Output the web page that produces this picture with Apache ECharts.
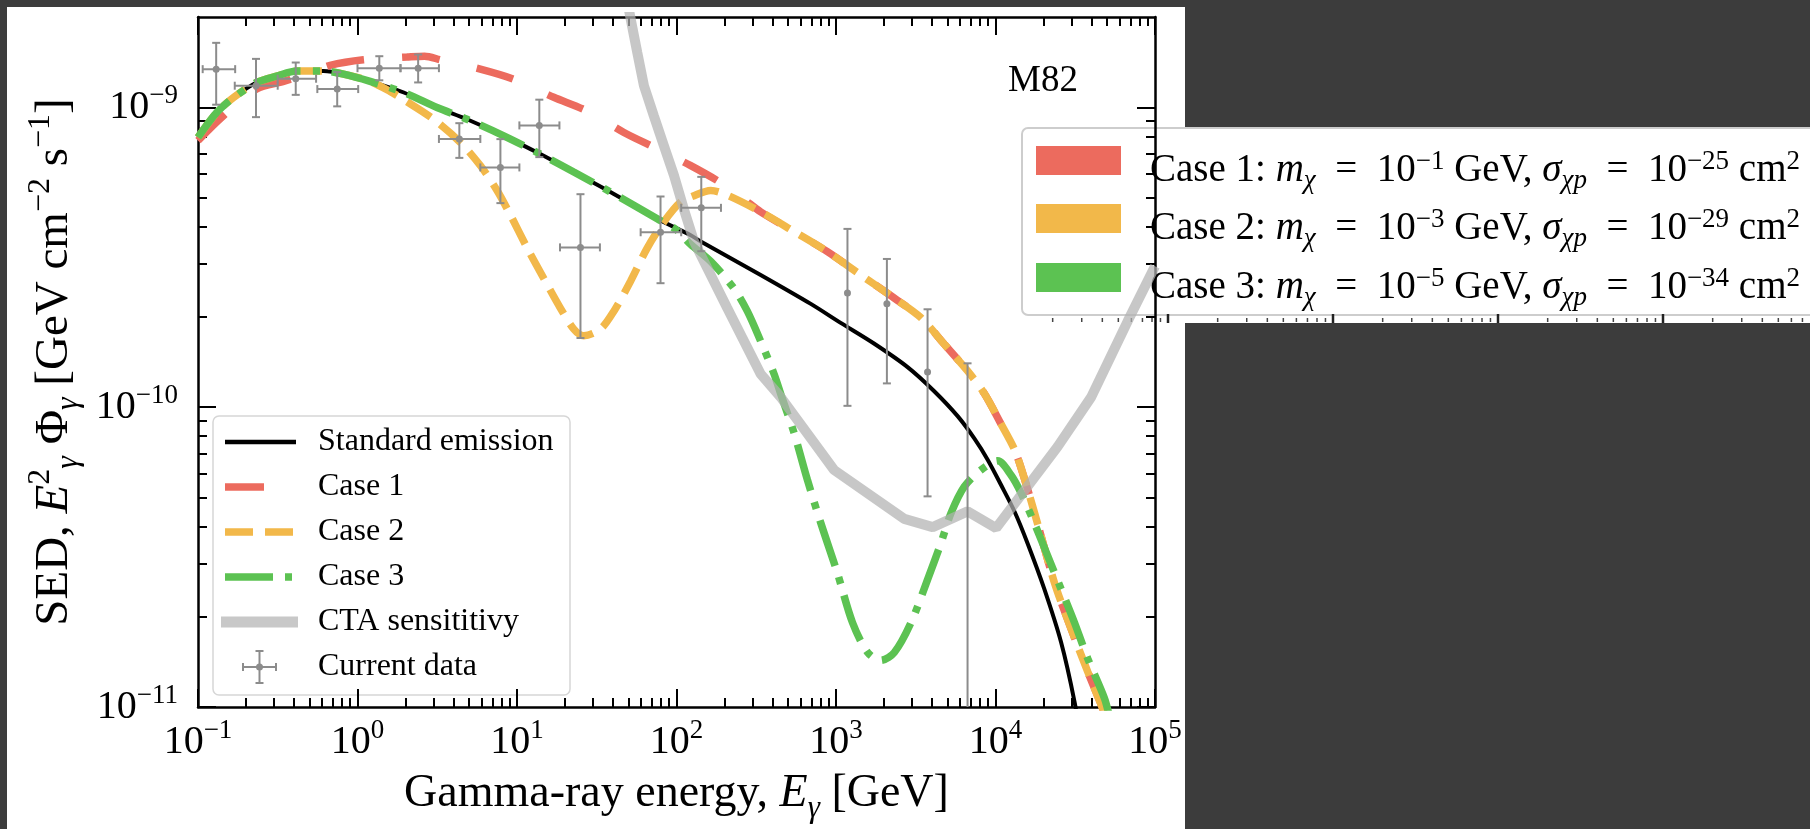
<!DOCTYPE html>
<html><head><meta charset="utf-8">
<script src="https://cdn.jsdelivr.net/npm/echarts@6.0.0/dist/echarts.min.js"></script>
<style>html,body{margin:0;padding:0;background:#3c3c3c;}#c{width:1810px;height:829px;}</style>
</head><body><div id="c"></div>
<script>
// ---------------- data ----------------
const xMajor = [0.1, 1, 10, 100, 1000, 10000, 100000];
const xMajorExp = ['\u22121', '0', '1', '2', '3', '4', '5'];
const yMajor = [1e-11, 1e-10, 1e-9];
const yMajorExp = ['\u221211', '\u221210', '\u22129'];

const stdE = [0.1,0.131,0.167,0.233,0.311,0.417,0.612,0.817,1.20,1.95,3.15,4.86,8.26,14.0,22.7,38.5,75.7,122,142,337,695,1070,1730,2810,4130,5790,7380,8930,10800,13200,15900,20200,25800,31300,35500];
const stdF = [7.94e-10,9.6e-10,1.077e-9,1.21e-9,1.27e-9,1.32e-9,1.32e-9,1.29e-9,1.22e-9,1.12e-9,9.98e-10,9.12e-10,8.03e-10,6.98e-10,6.08e-10,5.22e-10,4.25e-10,3.75e-10,3.57e-10,2.76e-10,2.21e-10,1.91e-10,1.63e-10,1.36e-10,1.13e-10,9.33e-11,7.85e-11,6.68e-11,5.52e-11,4.47e-11,3.51e-11,2.48e-11,1.64e-11,1.04e-11,7e-12];

const case1E = [0.1,0.144,0.233,0.344,0.501,0.673,1.09,2.04,2.63,3.31,5.89,9.53,17.0,27.5,46.8,72.1,122,194,263,337,546,883,1430,2320,3400,4780,6680,8510,10800,13200,15500,18800,23400,29800,37900,45900,50100];
const case1F = [7.74e-10,9.36e-10,1.15e-9,1.22e-9,1.30e-9,1.38e-9,1.44e-9,1.47e-9,1.48e-9,1.44e-9,1.34e-9,1.24e-9,1.08e-9,9.72e-10,8.24e-10,7.36e-10,6.4e-10,5.56e-10,4.95e-10,4.48e-10,3.85e-10,3.3e-10,2.76e-10,2.31e-10,1.99e-10,1.62e-10,1.32e-10,1.11e-10,8.81e-11,7.19e-11,5.57e-11,3.91e-11,2.6e-11,1.82e-11,1.31e-11,1.02e-11,9e-12];

const case2E = [0.1,0.131,0.167,0.233,0.311,0.417,0.612,0.817,1.20,1.60,1.95,3.0,4.42,5.89,7.5,9.1,11.6,14.7,18.7,22.7,26.2,33.3,40.5,51.5,65.5,83.4,106,126,164,208,337,546,883,1430,2320,3400,4780,6680,8510,10800,13200,15500,18800,23400,29800,37900,45900,50100];
const case2F = [7.94e-10,9.6e-10,1.077e-9,1.21e-9,1.27e-9,1.32e-9,1.32e-9,1.29e-9,1.22e-9,1.13e-9,1.06e-9,9.12e-10,7.63e-10,6.39e-10,5.28e-10,4.37e-10,3.39e-10,2.69e-10,2.14e-10,1.82e-10,1.73e-10,1.82e-10,2.09e-10,2.63e-10,3.39e-10,4.15e-10,4.83e-10,5.05e-10,5.28e-10,5.09e-10,4.48e-10,3.85e-10,3.3e-10,2.76e-10,2.31e-10,1.99e-10,1.62e-10,1.32e-10,1.11e-10,8.81e-11,7.19e-11,5.57e-11,3.91e-11,2.6e-11,1.82e-11,1.31e-11,1.02e-11,9e-12];

const case3E = [0.1,0.131,0.167,0.233,0.311,0.417,0.612,0.817,1.20,1.95,3.15,4.86,8.26,14.0,22.7,38.5,75.7,100,122,164,229,278,337,409,457,546,662,804,1020,1270,1580,1910,2320,2950,3750,4550,5260,6370,8110,10300,12500,14500,17500,21300,25800,31300,37900,48200,52500];
const case3F = [7.94e-10,9.6e-10,1.077e-9,1.21e-9,1.27e-9,1.32e-9,1.32e-9,1.29e-9,1.22e-9,1.12e-9,9.98e-10,9.12e-10,8.03e-10,6.98e-10,6.08e-10,5.22e-10,4.25e-10,3.9e-10,3.5e-10,3.06e-10,2.49e-10,2.09e-10,1.66e-10,1.29e-10,1.08e-10,8.2e-11,5.72e-11,4.1e-11,2.8e-11,1.91e-11,1.52e-11,1.43e-11,1.52e-11,1.91e-11,2.66e-11,3.52e-11,4.43e-11,5.43e-11,6.17e-11,6.62e-11,5.94e-11,5.16e-11,4.11e-11,3.18e-11,2.47e-11,1.91e-11,1.45e-11,1.07e-11,9e-12];

const ctaE = [49.0,51.5,56.8,62.5,72.1,83.4,96.4,111,129,208,337,450,973,2680,4040,6680,10100,24500,39800,67600,100000];
const ctaF = [2.29e-9,1.98e-9,1.52e-9,1.18e-9,9.36e-10,7.44e-10,5.93e-10,4.59e-10,3.56e-10,2.14e-10,1.29e-10,1.08e-10,6.17e-11,4.24e-11,3.98e-11,4.49e-11,3.95e-11,7.38e-11,1.08e-10,1.94e-10,2.95e-10];

const dataE   = [0.13,0.231,0.41,0.746,1.37,2.4,4.35,7.87,13.8,25,79.4,143,1180,2085,3750,6680];
const dataF   = [1.34e-9,1.18e-9,1.245e-9,1.15e-9,1.35e-9,1.35e-9,7.84e-10,6.3e-10,8.7e-10,3.41e-10,3.83e-10,4.62e-10,2.4e-10,2.21e-10,1.31e-10,8e-12];
const dataElo = [0.107,0.17,0.316,0.56,1.0,1.86,3.24,5.89,10.35,18.6,59.6,107,1180,2085,3750,6680];
const dataEhi = [0.171,0.316,0.55,1.01,1.86,3.24,5.89,10.35,18.45,33.1,107,190,1180,2085,3750,6680];
const dataFlo = [1.02e-9,9.27e-10,1.10e-9,1.007e-9,1.23e-9,1.21e-9,6.78e-10,4.79e-10,6.82e-10,1.70e-10,2.59e-10,3.31e-10,1.01e-10,1.2e-10,5.04e-11,1e-12];
const dataFhi = [1.64e-9,1.45e-9,1.41e-9,1.31e-9,1.48e-9,1.50e-9,8.85e-10,7.83e-10,1.06e-9,5.13e-10,5.04e-10,5.86e-10,3.93e-10,3.12e-10,2.12e-10,1.4e-10];

const legendNames = ['Standard emission', 'Case 1', 'Case 2', 'Case 3', 'CTA sensititivy', 'Current data'];
const caseMassExp = ['\u22121', '\u22123', '\u22125'];
const caseSigmaExp = ['\u221225', '\u221229', '\u221234'];

// ---------------- styling ----------------
const FONT = 'Liberation Serif';
const RED = '#ec6b5e', ORANGE = '#f2b84a', GREEN = '#5cc252', GRAY_ERR = '#8c8c8c';

const xMinor = [], yMinor = [];
for (let e = -1; e < 5; e++) for (let m = 2; m <= 9; m++) xMinor.push(+(m * Math.pow(10, e)).toPrecision(3));
for (let e = -11; e < -9; e++) for (let m = 2; m <= 9; m++) yMinor.push(+(m * Math.pow(10, e)).toPrecision(3));

const pairs = (xs, ys) => xs.map((x, i) => [x, ys[i]]);
function expIndex(arr, v) {
  let best = 0, d = Infinity;
  arr.forEach((t, i) => { const dd = Math.abs(Math.log10(t) - Math.log10(v)); if (dd < d) { d = dd; best = i; } });
  return best;
}
const tickRich = {
  b: {fontFamily: FONT, fontSize: 40, lineHeight: 50, color: '#000'},
  s: {fontFamily: FONT, fontSize: 27, lineHeight: 28, verticalAlign: 'top', color: '#000'}
};
function titleRich(fs) {
  const ss = Math.round(fs * 0.68);
  return {
    n: {fontFamily: FONT, fontSize: fs, lineHeight: 60, color: '#000'},
    i: {fontFamily: FONT, fontStyle: 'italic', fontSize: fs, lineHeight: 60, color: '#000'},
    sp: {fontFamily: FONT, fontSize: ss, lineHeight: 34, verticalAlign: 'top', color: '#000'},
    sb: {fontFamily: FONT, fontStyle: 'italic', fontSize: ss, lineHeight: 34, verticalAlign: 'bottom', color: '#000'}
  };
}
const XMIN = 0.1, XMAX = 1e5, YMIN = 1e-11, YMAX = 2e-9;

function xAx(pos, major, withLabel) {
  return {
    type: 'log', logBase: 10, min: XMIN, max: XMAX, position: pos,
    axisLine: {show: major, onZero: false, lineStyle: {color: '#000', width: 2.5}},
    axisTick: {show: true, inside: true, length: major ? 18 : 9, lineStyle: {color: '#000', width: 2},
               customValues: major ? xMajor : xMinor},
    axisLabel: withLabel ? {
      show: true, customValues: xMajor, margin: 10,
      formatter: v => '{b|10}{s|' + xMajorExp[expIndex(xMajor, v)] + '}', rich: tickRich
    } : {show: false},
    splitLine: {show: false}, minorTick: {show: false}
  };
}
function yAx(pos, major, withLabel) {
  return {
    type: 'log', logBase: 10, min: YMIN, max: YMAX, position: pos,
    axisLine: {show: major, onZero: false, lineStyle: {color: '#000', width: 2.5}},
    axisTick: {show: true, inside: true, length: major ? 18 : 9, lineStyle: {color: '#000', width: 2},
               customValues: major ? yMajor : yMinor},
    axisLabel: withLabel ? {
      show: true, customValues: yMajor, margin: 20,
      formatter: v => '{b|10}{s|' + yMajorExp[expIndex(yMajor, v)] + '}', rich: tickRich
    } : {show: false},
    splitLine: {show: false}, minorTick: {show: false}
  };
}

const xAxes = [xAx('bottom', true, true), xAx('bottom', false, false), xAx('top', true, false), xAx('top', false, false)];
xAxes[0].name = '{n|Gamma-ray energy, }{i|E}{sb|\u03b3}{n| [GeV]}';
xAxes[0].nameLocation = 'middle';
xAxes[0].nameGap = 57;
xAxes[0].nameTextStyle = {rich: titleRich(46)};
const yAxes = [yAx('left', true, true), yAx('left', false, false), yAx('right', true, false), yAx('right', false, false)];
yAxes[0].name = '{n|SED, }{i|E}{sp|2}{sb|\u03b3}{n| \u03a6}{sb|\u03b3}{n| [GeV cm}{sp|\u22122}{n| s}{sp|\u22121}{n|]}';
yAxes[0].nameLocation = 'middle';
yAxes[0].nameRotate = 90;
yAxes[0].nameGap = 106;
yAxes[0].nameTextStyle = {rich: titleRich(47)};

function errRender(params, api) {
  const E = api.value(0), F = api.value(1), El = api.value(2), Eh = api.value(3), Fl = api.value(4), Fh = api.value(5);
  const c = api.coord([E, F]);
  const st = {stroke: GRAY_ERR, lineWidth: 2};
  const t = api.coord([E, Fh]), b = api.coord([E, Fl]);
  const ch = [
    {type: 'line', shape: {x1: c[0], y1: t[1], x2: c[0], y2: b[1]}, style: st},
    {type: 'line', shape: {x1: c[0] - 4, y1: t[1], x2: c[0] + 4, y2: t[1]}, style: st},
    {type: 'line', shape: {x1: c[0] - 4, y1: b[1], x2: c[0] + 4, y2: b[1]}, style: st}
  ];
  if (Eh > El) {
    const l = api.coord([El, F]), r = api.coord([Eh, F]);
    ch.push({type: 'line', shape: {x1: l[0], y1: c[1], x2: r[0], y2: c[1]}, style: st});
    ch.push({type: 'line', shape: {x1: l[0], y1: c[1] - 4, x2: l[0], y2: c[1] + 4}, style: st});
    ch.push({type: 'line', shape: {x1: r[0], y1: c[1] - 4, x2: r[0], y2: c[1] + 4}, style: st});
  }
  ch.push({type: 'circle', shape: {cx: c[0], cy: c[1], r: 3.5}, style: {fill: GRAY_ERR}});
  return {type: 'group', children: ch};
}
const errData = dataE.map((e, i) => [e, dataF[i], dataElo[i], dataEhi[i], dataFlo[i], dataFhi[i]]);

// ---------------- legends (decoration) ----------------
const LX = 213, LY = 416, rowY = [442, 487, 532, 577, 622, 667];
const legendLL = [
  {type: 'rect', shape: {x: LX, y: LY, width: 357, height: 279, r: 6}, style: {fill: 'rgba(255,255,255,0.92)', stroke: '#d6d6d6', lineWidth: 1.5}},
  {type: 'line', shape: {x1: 225, y1: rowY[0], x2: 296, y2: rowY[0]}, style: {stroke: '#000', lineWidth: 4.5}},
  {type: 'line', shape: {x1: 225, y1: rowY[1], x2: 264, y2: rowY[1]}, style: {stroke: RED, lineWidth: 7.5}},
  {type: 'line', shape: {x1: 225, y1: rowY[2], x2: 296, y2: rowY[2]}, style: {stroke: ORANGE, lineWidth: 7.5, lineDash: [28, 12]}},
  {type: 'line', shape: {x1: 225, y1: rowY[3], x2: 296, y2: rowY[3]}, style: {stroke: GREEN, lineWidth: 7.5, lineDash: [48, 12, 7, 12]}},
  {type: 'line', shape: {x1: 221, y1: rowY[4], x2: 298, y2: rowY[4]}, style: {stroke: '#c8c8c8', lineWidth: 11}},
  {type: 'line', shape: {x1: 243, y1: rowY[5], x2: 276, y2: rowY[5]}, style: {stroke: GRAY_ERR, lineWidth: 2}},
  {type: 'line', shape: {x1: 259.5, y1: rowY[5] - 16, x2: 259.5, y2: rowY[5] + 16}, style: {stroke: GRAY_ERR, lineWidth: 2}},
  {type: 'line', shape: {x1: 243, y1: rowY[5] - 4, x2: 243, y2: rowY[5] + 4}, style: {stroke: GRAY_ERR, lineWidth: 2}},
  {type: 'line', shape: {x1: 276, y1: rowY[5] - 4, x2: 276, y2: rowY[5] + 4}, style: {stroke: GRAY_ERR, lineWidth: 2}},
  {type: 'line', shape: {x1: 255.5, y1: rowY[5] - 16, x2: 263.5, y2: rowY[5] - 16}, style: {stroke: GRAY_ERR, lineWidth: 2}},
  {type: 'line', shape: {x1: 255.5, y1: rowY[5] + 16, x2: 263.5, y2: rowY[5] + 16}, style: {stroke: GRAY_ERR, lineWidth: 2}},
  {type: 'circle', shape: {cx: 259.5, cy: rowY[5], r: 3.5}, style: {fill: GRAY_ERR}}
];
legendNames.forEach((n, i) => legendLL.push({
  type: 'text', x: 318, y: rowY[i],
  style: {text: n, fontFamily: FONT, fontSize: 32, fill: '#000', verticalAlign: 'middle', align: 'left'}
}));

const rlRich = {
  n: {fontFamily: FONT, fontSize: 39, lineHeight: 46, color: '#111'},
  i: {fontFamily: FONT, fontStyle: 'italic', fontSize: 39, lineHeight: 46, color: '#111'},
  sp: {fontFamily: FONT, fontSize: 27, lineHeight: 22, verticalAlign: 'top', color: '#111'},
  sb: {fontFamily: FONT, fontStyle: 'italic', fontSize: 27, lineHeight: 26, verticalAlign: 'bottom', color: '#111'}
};
const patchY = [146, 204, 263], patchCol = [RED, ORANGE, GREEN];
const legendR = [
  {type: 'rect', shape: {x: 1185, y: 313, width: 640, height: 10}, style: {fill: '#fff'}},
  {type: 'rect', shape: {x: 1022, y: 128, width: 820, height: 187, r: 6}, style: {fill: '#fff', stroke: '#cdcdcd', lineWidth: 2}}
];
for (let d = 0; d < 6; d++) {
  const x0 = 1003 + 165 * d;
  if (x0 > 1100) legendR.push({type: 'line', shape: {x1: x0, y1: 314, x2: x0, y2: 323}, style: {stroke: '#222', lineWidth: 2.5}});
  [2,3,4,5,6,7,8,9].forEach(m => {
    const xm = x0 + 165 * Math.log10(m);
    if (xm > 1030 && xm < 1810) legendR.push({type: 'line', shape: {x1: xm, y1: 318, x2: xm, y2: 322}, style: {stroke: '#444', lineWidth: 1.5}});
  });
}
[0, 1, 2].forEach(i => {
  legendR.push({type: 'rect', shape: {x: 1036, y: patchY[i], width: 85, height: 29}, style: {fill: patchCol[i]}});
  legendR.push({
    type: 'text', x: 1150, y: patchY[i] + 25,
    style: {
      text: '{n|Case ' + (i + 1) + ': }{i|m}{sb|\u03c7}{n|  =  10}{sp|' + caseMassExp[i] + '}{n| GeV, }{i|\u03c3}{sb|\u03c7p}{n|  =  10}{sp|' + caseSigmaExp[i] + '}{n| cm}{sp|2}',
      rich: rlRich, verticalAlign: 'middle', align: 'left'
    }
  });
});

const chart = echarts.init(document.getElementById('c'), null, {renderer: 'canvas'});
chart.setOption({
  backgroundColor: '#3c3c3c',
  animation: false,
  grid: {left: 198, top: 17, width: 957, height: 695, containLabel: false},
  xAxis: xAxes,
  yAxis: yAxes,
  graphic: [
    {type: 'rect', z: -100, shape: {x: 7, y: 7, width: 1178, height: 830}, style: {fill: '#fff'}},
    {type: 'text', x: 1043, y: 81, style: {text: 'M82', fontFamily: FONT, fontSize: 37, fill: '#000', align: 'center', verticalAlign: 'middle'}},
    {type: 'group', z: 100, children: legendLL},
    {type: 'group', z: 100, children: legendR}
  ],
  series: [
    {type: 'line', name: 'Standard emission', data: pairs(stdE, stdF), showSymbol: false, smooth: 0.3, z: 2,
     lineStyle: {color: '#000', width: 4}},
    {type: 'line', name: 'Case 1', data: pairs(case1E, case1F), showSymbol: false, smooth: 0.3, z: 3,
     lineStyle: {color: RED, width: 7.5, type: [38, 38]}},
    {type: 'line', name: 'Case 2', data: pairs(case2E, case2F), showSymbol: false, smooth: 0.3, z: 4,
     lineStyle: {color: ORANGE, width: 7.5, type: [28, 12]}},
    {type: 'line', name: 'Case 3', data: pairs(case3E, case3F), showSymbol: false, smooth: 0.3, z: 5,
     lineStyle: {color: GREEN, width: 7.5, type: [48, 12, 7, 12]}},
    {type: 'line', name: 'CTA sensititivy', data: pairs(ctaE, ctaF), showSymbol: false, smooth: false, z: 6,
     lineStyle: {color: '#b2b2b2', width: 10, opacity: 0.72}},
    {type: 'custom', name: 'Current data', data: errData, renderItem: errRender, clip: true, z: 7,
     encode: {x: 0, y: 1}}
  ]
});
</script></body></html>
